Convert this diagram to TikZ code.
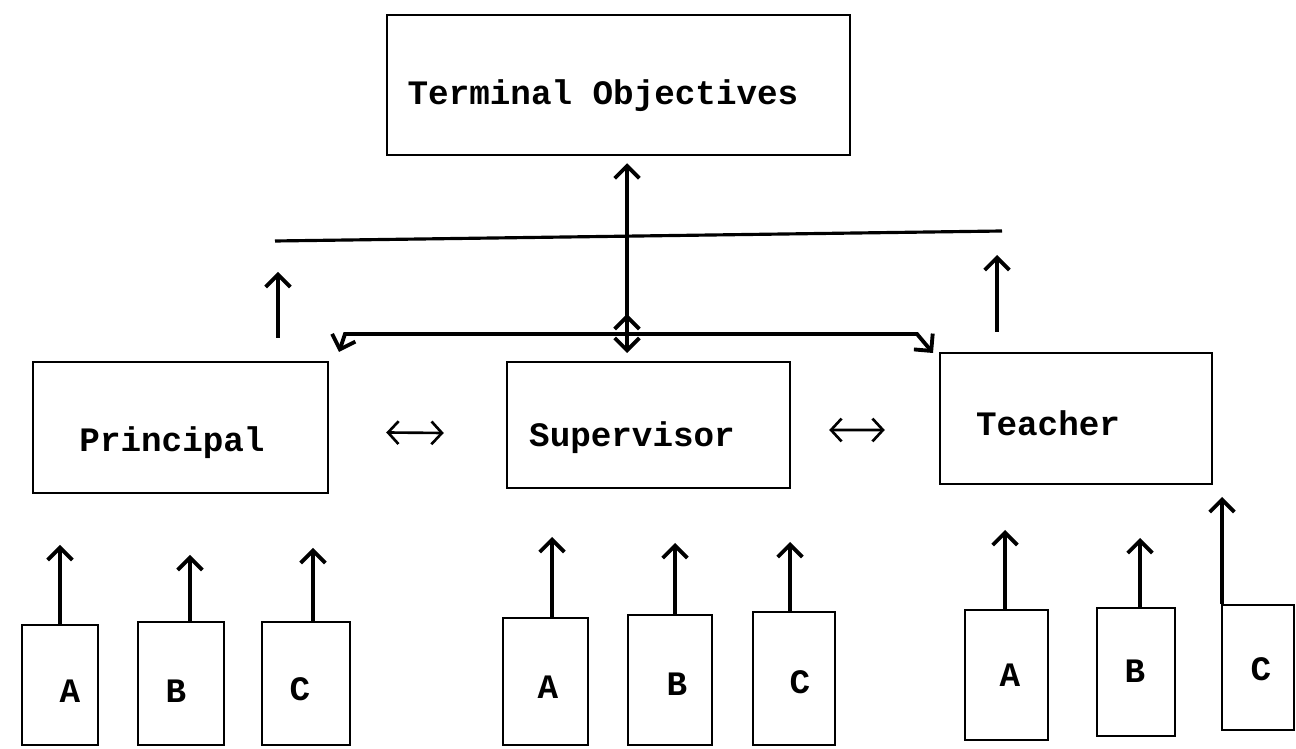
\documentclass[tikz,border=0pt]{standalone}
\usepackage{fontspec}
\setmonofont{Liberation Mono}
\usetikzlibrary{arrows.meta,calc}
\begin{document}
\begin{tikzpicture}[x=0.02cm,y=-0.02cm,
  box/.style 2 args={draw, line width=1.4pt, inner sep=0pt, minimum width=#1*0.02cm, minimum height=#2*0.02cm},
  lbl/.style={font=\ttfamily\bfseries\fontsize{19.5}{23}\selectfont, anchor=base, inner sep=0pt},
  arr/.style={line width=2.2pt, -{Straight Barb[length=7pt,width=14pt]}},
  dbl/.style={line width=1.5pt, {Straight Barb[length=6pt,width=13pt]}-{Straight Barb[length=6pt,width=13pt]}},
  ln/.style={line width=1.8pt}]
\useasboundingbox (0,0) rectangle (1296,749);
% main boxes
\node[box={463}{140}] (to) at (618.5,85) {};
\node[lbl] at (603,105) {Terminal Objectives};
\node[box={295}{131}] (pr) at (180.5,427.5) {};
\node[lbl] at (172,452) {Principal};
\node[box={283}{126}] (su) at (648.5,425) {};
\node[lbl] at (632,447) {Supervisor};
\node[box={272}{131}] (te) at (1076,418.5) {};
\node[lbl] at (1048,436) {Teacher};
% bottom boxes
\node[box={76}{120}] (pa) at (60,685) {};
\node[lbl] at (70,703) {A};
\node[box={86}{123}] (pb) at (181,683.5) {};
\node[lbl] at (176,703) {B};
\node[box={88}{123}] (pc) at (306,683.5) {};
\node[lbl] at (300,701) {C};
\node[box={85}{127}] (sa) at (545.5,681.5) {};
\node[lbl] at (548,699) {A};
\node[box={84}{130}] (sb) at (670,680) {};
\node[lbl] at (677,696) {B};
\node[box={82}{133}] (sc) at (794,678.5) {};
\node[lbl] at (800,694) {C};
\node[box={83}{130}] (ta) at (1006.5,675) {};
\node[lbl] at (1010,687) {A};
\node[box={78}{128}] (tb) at (1136,672) {};
\node[lbl] at (1135,683) {B};
\node[box={72}{125}] (tc) at (1258,667.5) {};
\node[lbl] at (1261,681) {C};
% arrows from bottom boxes
\coordinate (pat) at (60,545);
\coordinate (pbt) at (190,555);
\coordinate (pct) at (313,548);
\coordinate (sat) at (552,537);
\coordinate (sbt) at (675,543);
\coordinate (sct) at (790,542);
\coordinate (tat) at (1005,530);
\coordinate (tbt) at (1140,538);
\coordinate (tct) at (1222,497);
\foreach \b/\t in {pa/pat,pb/pbt,pc/pct,sa/sat,sb/sbt,sc/sct,ta/tat,tb/tbt,tc/tct}
  \draw[arr] (\t |- \b.north) -- (\t);
% upper line and side arrows
\coordinate (tl) at (275,241);
\coordinate (tr) at (1002,231);
\draw[ln] (tl) -- (tr);
\coordinate (ul0) at (278,338);
\coordinate (ul1) at (278,272);
\draw[arr] (ul0) -- (ul1);
\coordinate (ur0) at (997,332);
\coordinate (ur1) at (997,255);
\draw[arr] (ur0) -- (ur1);
% central junction
\coordinate (jn) at (627,334);
\draw[arr, shorten >=4pt] (jn) -- (jn |- to.south);
\draw[arr] (jn) -- (627,314);
\draw[arr] (jn) -- (627,353);
\coordinate (bl) at (345,334);
\coordinate (br) at (917,334);
\draw[arr] (jn) -- (bl) -- (339,352);
\draw[arr] (jn) -- (br) -- (933,353);
% double arrows between boxes
\draw[dbl] ($(pr.east)+(57,5)$) -- ($(su.west)+(-62,8)$);
\draw[dbl] ($(su.east)+(38,5)$) -- ($(te.west)+(-54,11.5)$);
\end{tikzpicture}
\end{document}
